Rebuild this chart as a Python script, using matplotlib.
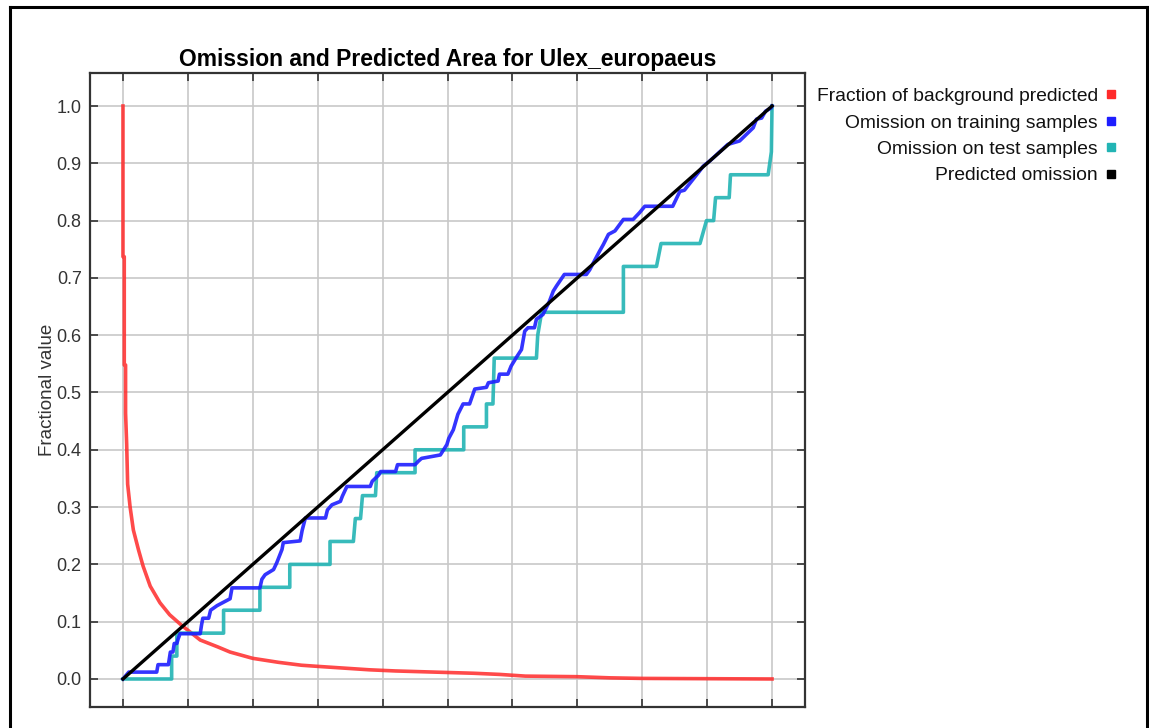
import numpy as np
import matplotlib
matplotlib.use('Agg')
import matplotlib.pyplot as plt
from matplotlib.lines import Line2D

plt.rcParams['font.family'] = ['Liberation Sans', 'DejaVu Sans']

TITLE = 'Omission and Predicted Area for Ulex_europaeus'
YLABEL = 'Fractional value'
LEGEND_LABELS = ['Fraction of background predicted', 'Omission on training samples',
                 'Omission on test samples', 'Predicted omission']
COLORS = ['#ff2a2a', '#1e1eff', '#22b4b4', '#000000']

# fraction of background predicted (red)
bg_x = [0, 0, 0.2, 0.2, 0.4, 0.4, 0.57, 0.72, 1.1, 1.6, 2.4, 3.1, 4.2, 5.7, 7.2, 9.0,
        11.9, 14.6, 16.5, 20, 24, 27.5, 30, 34, 38, 42, 48, 54, 58, 62, 70, 75, 80, 90, 100]
bg_y = [1.0, 0.737, 0.737, 0.548, 0.548, 0.464, 0.41, 0.34, 0.30, 0.26, 0.225, 0.197, 0.162,
        0.133, 0.112, 0.094, 0.068, 0.056, 0.047, 0.036, 0.029, 0.024, 0.022, 0.019, 0.016,
        0.014, 0.012, 0.010, 0.008, 0.005, 0.004, 0.002, 0.001, 0.0005, 0.0]

# omission on training samples (blue)
train_x = [0, 0.9, 5.2, 5.4, 7.0, 7.3, 7.7, 7.9, 8.3, 8.5, 8.8, 11.9, 12.1, 12.3, 13.2, 13.5,
           14.5, 16.5, 16.8, 21.1, 21.4, 21.9, 23.2, 23.7, 24.5, 24.7, 27.3, 27.6, 28.1, 31.2,
           31.5, 32.2, 33.5, 33.8, 34.5, 38.1, 38.4, 39.4, 39.7, 42.0, 42.3, 45.0, 45.5, 46.0,
           48.9, 49.4, 49.9, 50.2, 50.9, 51.6, 52.4, 53.4, 54.2, 56.0, 56.3, 57.8, 58.0, 59.3,
           59.8, 60.6, 61.4, 61.9, 62.4, 63.4, 63.7, 64.7, 65.7, 66.3, 66.8, 68.0, 71.4, 71.9,
           73.4, 74.0, 74.8, 75.8, 77.1, 78.6, 79.6, 80.4, 84.7, 85.8, 86.5, 88.8, 89.4, 90.4,
           93.2, 95.0, 97.1, 97.6, 98.4, 99.0, 99.9, 100]
train_y = [0, 0.012, 0.012, 0.025, 0.025, 0.047, 0.047, 0.062, 0.062, 0.07, 0.079, 0.079,
           0.094, 0.106, 0.106, 0.12, 0.128, 0.14, 0.159, 0.159, 0.174, 0.182, 0.191, 0.203,
           0.226, 0.238, 0.241, 0.259, 0.281, 0.281, 0.295, 0.304, 0.31, 0.319, 0.336, 0.336,
           0.345, 0.356, 0.362, 0.362, 0.374, 0.374, 0.38, 0.385, 0.391, 0.40, 0.409, 0.42,
           0.435, 0.462, 0.48, 0.48, 0.506, 0.509, 0.517, 0.52, 0.532, 0.532, 0.546, 0.561,
           0.575, 0.607, 0.613, 0.613, 0.628, 0.636, 0.659, 0.677, 0.686, 0.706, 0.706, 0.714,
           0.746, 0.758, 0.776, 0.782, 0.802, 0.802, 0.814, 0.825, 0.825, 0.851, 0.853, 0.886,
           0.895, 0.904, 0.933, 0.939, 0.962, 0.977, 0.979, 0.991, 0.997, 1.0]

# omission on test samples (cyan)
test_x = [0, 7.5, 7.5, 8.3, 8.3, 15.5, 15.5, 21.1, 21.1, 25.7, 25.7, 31.9, 31.9, 35.5, 35.8,
          36.6, 36.9, 38.9, 39.1, 45.0, 45.0, 52.5, 52.5, 56.0, 56.0, 57.0, 57.2, 63.7, 63.9,
          64.2, 64.5, 77.1, 77.1, 82.2, 82.9, 88.9, 89.9, 91.0, 91.3, 93.4, 93.6, 99.4, 99.9, 100]
test_y = [0, 0, 0.04, 0.04, 0.08, 0.08, 0.12, 0.12, 0.16, 0.16, 0.2, 0.2, 0.24, 0.24, 0.28,
          0.28, 0.32, 0.32, 0.36, 0.36, 0.40, 0.40, 0.44, 0.44, 0.48, 0.48, 0.56, 0.56, 0.60,
          0.62, 0.64, 0.64, 0.72, 0.72, 0.76, 0.76, 0.80, 0.80, 0.84, 0.84, 0.88, 0.88, 0.92, 1.0]

# predicted omission (black)
pred_x = [0, 100]
pred_y = [0, 1]

fig = plt.figure(figsize=(11.49, 7.28), dpi=100)
ax = fig.add_axes([90/1149, 21/728, 715/1149, 634/728])

ax.plot(bg_x, bg_y, color=COLORS[0], lw=2.6, alpha=0.85, zorder=2)
ax.plot(test_x, test_y, color=COLORS[2], lw=2.6, alpha=0.9, zorder=3)
ax.plot(train_x, train_y, color=COLORS[1], lw=2.6, alpha=0.9, zorder=4)
ax.plot(pred_x, pred_y, color=COLORS[3], lw=2.4, zorder=5)

ax.set_xlim(-5.08, 105.08)
ax.set_ylim(-0.0489, 1.0576)
ax.set_xticks(np.arange(0, 101, 10))
ax.set_yticks(np.arange(0, 1.01, 0.1))
ax.set_xticklabels([])
ax.set_yticklabels(['%.1f' % v for v in np.arange(0, 1.01, 0.1)])
ax.grid(True, color='#c8c8c8', lw=1.2, zorder=0)
ax.set_axisbelow(True)
ax.tick_params(direction='in', length=6, width=1.2, top=True, right=True,
               labelsize=13, pad=6, colors='#333333', labelcolor='#333333')
for s in ax.spines.values():
    s.set_linewidth(1.6)
    s.set_color('#333333')

ax.set_title(TITLE, fontsize=16.5, fontweight='bold', pad=5)
ax.set_ylabel(YLABEL, fontsize=13.5, color='#333333', labelpad=0.5)

handles = [Line2D([], [], marker='s', ls='none', color=c, markersize=5.5) for c in COLORS]
fig.legend(handles, LEGEND_LABELS, loc='upper right', bbox_to_anchor=(1126/1149, 1 - 78/728),
           frameon=False, markerfirst=False, handletextpad=0.35, handlelength=0.6,
           labelspacing=0.46, borderpad=0, fontsize=13.9, labelcolor='#111111')

# outer frame of the picture
fig.add_artist(Line2D([10/1149, 10/1149], [0, 1 - 7/728], color='black', lw=2.2))
fig.add_artist(Line2D([10/1149, 1147/1149], [1 - 7/728, 1 - 7/728], color='black', lw=2.2))
fig.add_artist(Line2D([1147/1149, 1147/1149], [0, 1 - 7/728], color='black', lw=2.2))

fig.savefig('out.png', dpi=100)
